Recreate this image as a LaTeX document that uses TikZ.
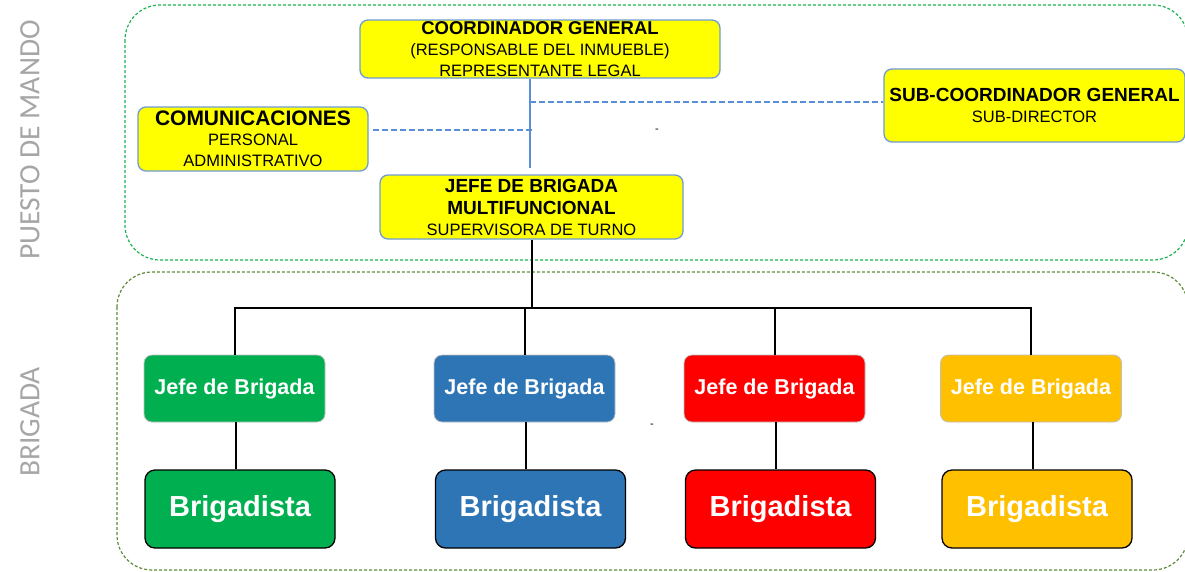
\documentclass[tikz,border=0pt]{standalone}
\usepackage{fontspec}
\setmainfont{Liberation Sans}
\newfontfamily\sidefont{Carlito}
\definecolor{ybox}{HTML}{FFFF00}
\definecolor{yborder}{HTML}{6E9BD6}
\definecolor{bline}{HTML}{5B8ED8}
\definecolor{topgreen}{HTML}{1DB352}
\definecolor{botgreen}{HTML}{5E8C3A}
\definecolor{cgreen}{HTML}{00B050}
\definecolor{cblue}{HTML}{2E75B6}
\definecolor{cred}{HTML}{FF0000}
\definecolor{corange}{HTML}{FFC000}
\definecolor{sidegray}{HTML}{A6A6A6}
\tikzset{
  ynode/.style={draw=yborder, line width=1.3pt, fill=ybox, rounded corners=8pt, align=center, inner sep=0pt, text=black, font=\fontsize{16.5}{21}\selectfont},
  jbox/.style={draw=black!25, line width=0.8pt, rounded corners=8pt, minimum width=181pt, minimum height=67pt, inner sep=0pt, text=white, font=\bfseries\fontsize{21.5}{24}\selectfont},
  bbox/.style={draw=black, line width=1.3pt, rounded corners=10pt, minimum width=190pt, minimum height=78pt, inner sep=0pt, text=white, font=\bfseries\fontsize{29}{32}\selectfont},
  bsolid/.style={draw=bline, line width=2.2pt},
  bdash/.style={draw=bline, line width=1.6pt, dash pattern=on 6pt off 3pt},
  kline/.style={draw=black, line width=2pt},
  region/.style={line width=1.2pt, dash pattern=on 3pt off 2pt, rounded corners=35pt},
  sidelabel/.style={rotate=90, text=sidegray, font=\sidefont\fontsize{29.5}{32}\selectfont}
}
\newcommand{\bt}[2][18.5]{{\bfseries\fontsize{#1}{21}\selectfont #2}}
\begin{document}
\begin{tikzpicture}[x=1pt,y=-1pt]
\useasboundingbox (0,0) rectangle (1185,571);
% regions
\draw[region, topgreen] (125,5) rectangle (1188,260);
\draw[region, botgreen] (117,272) rectangle (1188,570);
\node[sidelabel] (lpm) at (30,140) {PUESTO DE MANDO};
\node[sidelabel] (lbr) at (30,422) {BRIGADA};
% top nodes
\node[ynode, minimum width=360pt, minimum height=58pt] (coord) at (540,49)
  {\bt{COORDINADOR GENERAL}\\(RESPONSABLE DEL INMUEBLE)\\REPRESENTANTE LEGAL};
\node[ynode, minimum width=230pt, minimum height=64pt] (com) at (253,139)
  {\bt[21]{COMUNICACIONES}\\[-1pt]PERSONAL\\ADMINISTRATIVO};
\node[ynode, minimum width=301pt, minimum height=73pt] (sub) at (1034.5,105.5)
  {\bt[19]{SUB-COORDINADOR GENERAL}\\SUB-DIRECTOR};
\node[ynode, minimum width=303pt, minimum height=64pt] (jm) at (531.5,207)
  {\bt[19]{JEFE DE BRIGADA}\\[1pt]\bt[19]{MULTIFUNCIONAL}\\SUPERVISORA DE TURNO};
% blue connectors
\coordinate (cend) at (530,168);
\coordinate (d1) at (530,102);
\coordinate (d2) at (532,130);
\draw[bsolid] (coord.south -| cend) -- (cend);
\draw[bdash] (d1) -- (d1 -| sub.west);
\draw[bdash] (d2) -- (d2 -| com.east) [shorten >=4pt];
\node[font=\fontsize{11}{12}\selectfont] (dash1) at (657,131) {-};
% brigade nodes
\node[jbox, fill=cgreen] (j1) at (234.5,388.5) {Jefe de Brigada};
\node[jbox, fill=cblue] (j2) at (524.5,388.5) {Jefe de Brigada};
\node[jbox, fill=cred] (j3) at (774.5,388.5) {Jefe de Brigada};
\node[jbox, fill=corange] (j4) at (1031,388.5) {Jefe de Brigada};
\node[bbox, fill=cgreen] (b1) at (240,509) {Brigadista};
\node[bbox, fill=cblue] (b2) at (530.5,509) {Brigadista};
\node[bbox, fill=cred] (b3) at (780.5,509) {Brigadista};
\node[bbox, fill=corange] (b4) at (1037,509) {Brigadista};
\node[font=\fontsize{11}{12}\selectfont] (dash2) at (652,426) {-};
% black connectors
\coordinate (bus) at (532,308);
\draw[kline] (jm.south -| bus) -- (bus);
\draw[kline] ([xshift=-1pt]j1.north |- bus) -- ([xshift=1pt]j4.north |- bus);
\foreach \k in {1,2,3,4}{
  \draw[kline] (j\k.north) -- (j\k.north |- bus);
  \draw[kline] ([xshift=1.5pt]j\k.south) -- ([xshift=1.5pt]j\k.south |- b\k.north);
}
\end{tikzpicture}
\end{document}
